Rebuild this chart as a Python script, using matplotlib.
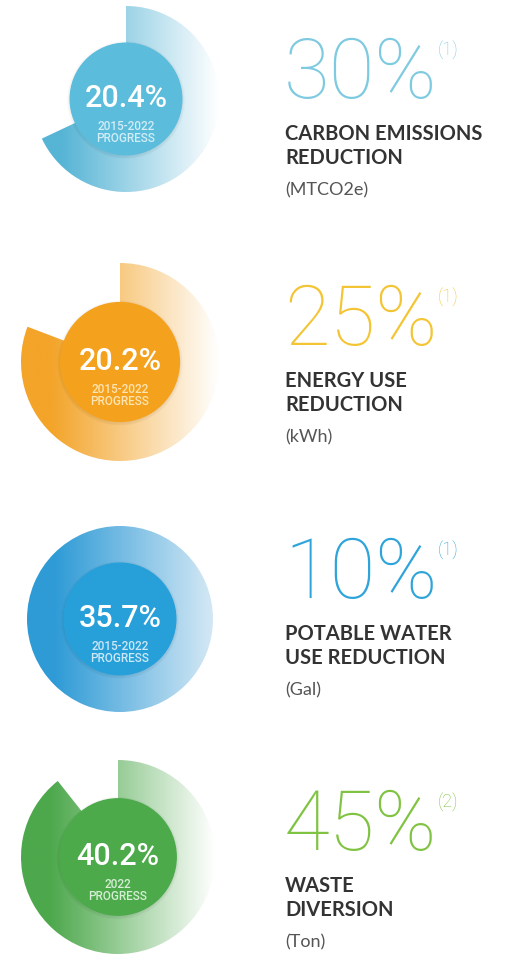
import matplotlib
matplotlib.use('Agg')
import matplotlib.pyplot as plt
import numpy as np
from matplotlib.patches import Wedge, Circle
from matplotlib.colors import LinearSegmentedColormap

# 目标与进度数据
goals = [30, 25, 10, 45]
progress = [20.4, 20.2, 35.7, 40.2]
notes = ['(1)', '(1)', '(1)', '(2)']
periods = ['2015-2022', '2015-2022', '2015-2022', '2022']
titles = ['CARBON EMISSIONS\nREDUCTION', 'ENERGY USE\nREDUCTION',
          'POTABLE WATER\nUSE REDUCTION', 'WASTE\nDIVERSION']
units = ['(MTCO2e)', '(kWh)', '(Gal)', '(Ton)']

# 颜色
fill_colors = ['#5bbcdc', '#f4a21e', '#27a0da', '#4caa4b']
ring_dark = ['#56b4d5', '#f3a429', '#2f9bd6', '#4da84c']
ring_light = ['#ffffff', '#ffffff', '#d4e8f5', '#ffffff']
goal_colors = ['#7ecae0', '#f3c433', '#2ea4da', '#80c342']
sub_colors = ['#d2edf6', '#fde4b3', '#cde8f6', '#d6eed5']

# 布局 (像素坐标)
cx = [126, 120, 120, 118]
cy = [99, 362, 619, 857]
R = [93, 99, 93, 97]
text_x = 284
num_base = [98, 345, 598, 850]

plt.rcParams['font.family'] = ['Lato', 'DejaVu Sans']
thin = ['Roboto', 'DejaVu Sans']

fig = plt.figure(figsize=(5.21, 9.65), dpi=100)
ax = fig.add_axes([0, 0, 1, 1])
grad = np.linspace(0, 1, 256).reshape(1, -1)

for i in range(len(goals)):
    frac = min(progress[i] / goals[i], 1.0)
    r_in = R[i] * 0.6

    # 外环: 从12点方向顺时针, 长度为 进度/目标
    cmap = LinearSegmentedColormap.from_list(
        'ring%d' % i, [(0, ring_dark[i]), (0.15, ring_dark[i]), (1, ring_light[i])])
    ring = Wedge((cx[i], cy[i]), R[i], -90, -90 + 360 * frac,
                 width=R[i] - r_in * 0.95, facecolor='none', edgecolor='none')
    ax.add_patch(ring)
    im = ax.imshow(grad, cmap=cmap, aspect='auto', zorder=1,
                   extent=(cx[i] - R[i], cx[i] + R[i], cy[i] + R[i], cy[i] - R[i]))
    im.set_clip_path(ring)

    # 内圆及淡阴影
    for k in range(3):
        ax.add_patch(Circle((cx[i], cy[i] + 1), r_in + k + 0.5, color='black',
                            alpha=0.015, zorder=2))
    ax.add_patch(Circle((cx[i], cy[i]), r_in, color=fill_colors[i], zorder=3))

    ax.text(cx[i], cy[i] + 8, f'{progress[i]}%', ha='center', va='baseline',
            fontsize=22, color='white', family=thin, fontweight='medium', zorder=4)
    ax.text(cx[i], cy[i] + 31, periods[i], ha='center', va='baseline',
            fontsize=8.5, color=sub_colors[i], family=thin, fontweight='medium', zorder=4)
    ax.text(cx[i], cy[i] + 43, 'PROGRESS', ha='center', va='baseline',
            fontsize=8.5, color=sub_colors[i], family=thin, fontweight='medium', zorder=4)

    # 右侧目标文字
    big = ax.text(text_x, num_base[i], f'{goals[i]}%', ha='left', va='baseline',
                  fontsize=60, color=goal_colors[i], family=thin, fontweight='light')
    ax.annotate(notes[i], xy=(1, 1), xycoords=big, xytext=(0, -14),
                textcoords='offset points', ha='left', va='baseline',
                fontsize=13, color=goal_colors[i], family=thin, fontweight='light')
    line1, line2 = titles[i].split('\n')
    ax.text(text_x + 1, num_base[i] + 42, line1, ha='left', va='baseline',
            fontsize=14.5, color='#333333', fontweight='bold')
    ax.text(text_x + 1, num_base[i] + 66, line2, ha='left', va='baseline',
            fontsize=14.5, color='#333333', fontweight='bold')
    ax.text(text_x + 1, num_base[i] + 97, units[i], ha='left', va='baseline',
            fontsize=13, color='#555555')

ax.set_xlim(0, 521)
ax.set_ylim(965, 0)
ax.axis('off')
fig.savefig('out.png', dpi=100)
